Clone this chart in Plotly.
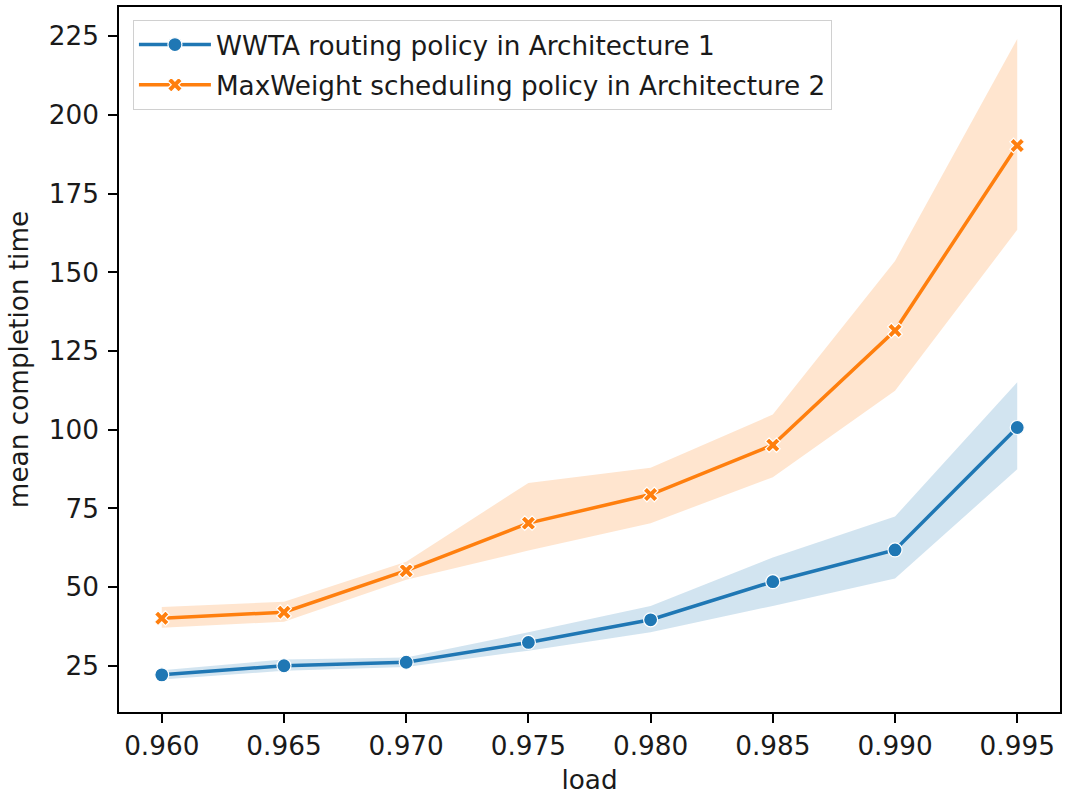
import plotly.graph_objects as go

load = [0.960, 0.965, 0.970, 0.975, 0.980, 0.985, 0.990, 0.995]

wwta_mean = [22.1, 25.0, 26.1, 32.4, 39.6, 51.7, 61.8, 100.7]
wwta_low = [20.6, 23.4, 24.6, 29.8, 35.6, 44.0, 52.7, 87.4]
wwta_high = [23.6, 27.0, 27.6, 35.6, 44.0, 59.4, 72.4, 115.1]

mw_mean = [40.1, 42.0, 55.2, 70.3, 79.4, 95.1, 131.5, 190.3]
mw_low = [37.1, 39.0, 52.3, 61.6, 70.3, 84.9, 112.4, 163.5]
mw_high = [43.7, 45.3, 58.0, 83.1, 87.9, 104.8, 153.6, 224.1]

x_ticks = [0.960, 0.965, 0.970, 0.975, 0.980, 0.985, 0.990, 0.995]
x_tick_labels = ["0.960", "0.965", "0.970", "0.975", "0.980", "0.985", "0.990", "0.995"]
y_ticks = [25, 50, 75, 100, 125, 150, 175, 200, 225]

names = ["WWTA routing policy in Architecture 1", "MaxWeight scheduling policy in Architecture 2"]
colors = ["#1f77b4", "#ff7f0e"]
bands = ["rgba(31,119,180,0.2)", "rgba(255,127,14,0.2)"]
symbols = ["circle", "x"]

FONT = "DejaVu Sans"
FS = 26.3
TXT = "#1a1a1a"

fig = go.Figure()
series = [(wwta_mean, wwta_low, wwta_high), (mw_mean, mw_low, mw_high)]
for i, (m, lo, hi) in enumerate(series):
    fig.add_trace(go.Scatter(
        x=load + load[::-1], y=hi + lo[::-1], fill="toself",
        fillcolor=bands[i], line=dict(width=0), mode="lines",
        showlegend=False, hoverinfo="skip"))
for i, (m, lo, hi) in enumerate(series):
    fig.add_trace(go.Scatter(
        x=load, y=m, mode="lines+markers", name=names[i], legendgroup="g%d" % i,
        line=dict(color=colors[i], width=3.5),
        marker=dict(symbol=symbols[i], size=14 if i == 0 else 13, color=colors[i],
                    line=dict(color="white", width=1.2))))

axis_common = dict(
    showline=True, linecolor="black", linewidth=1.7, mirror=True,
    ticks="outside", ticklen=9, tickwidth=1.7, tickcolor="black",
    showgrid=False, zeroline=False,
    tickfont=dict(family=FONT, size=FS, color=TXT),
)

fig.update_layout(
    width=1065, height=797,
    margin=dict(l=119, r=3, t=7, b=85),
    paper_bgcolor="white", plot_bgcolor="white",
    font=dict(family=FONT, size=FS, color=TXT),
    xaxis=dict(range=[0.95825, 0.99675], tickvals=x_ticks, ticktext=x_tick_labels,
               ticklabelstandoff=1, automargin=False,
               title=dict(text="load", font=dict(family=FONT, size=FS, color=TXT), standoff=10),
               **axis_common),
    yaxis=dict(range=[10.3, 234.3], tickvals=y_ticks, ticklabelstandoff=4, automargin=True,
               title=dict(text="mean completion time", font=dict(family=FONT, size=FS, color=TXT), standoff=12),
               **axis_common),
    legend=dict(x=0.0148, y=0.9816, xanchor="left", yanchor="top",
                bgcolor="rgba(255,255,255,0.8)", bordercolor="#d0d0d0", borderwidth=1,
                tracegroupgap=3, itemwidth=72,
                font=dict(family=FONT, size=FS, color=TXT)),
    showlegend=True,
)

fig.write_html("out.html", config={"displayModeBar": False},
               post_script="document.body.style.margin='0';document.body.style.padding='0';")
